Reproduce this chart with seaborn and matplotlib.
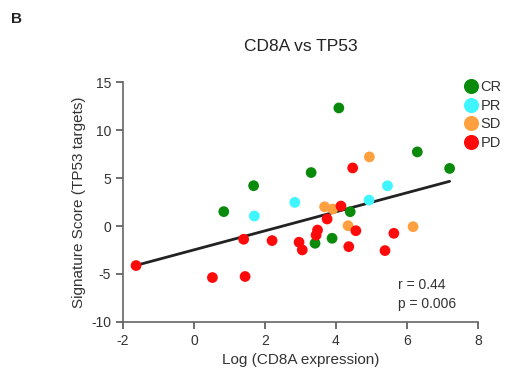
import numpy as np
import pandas as pd
import matplotlib
matplotlib.use("Agg")
import matplotlib.pyplot as plt
import seaborn as sns

# pontos (Log CD8A, score TP53)
cr_x = [0.84, 1.68, 3.30, 4.08, 6.29, 7.20, 4.40, 3.41, 3.89]
cr_y = [1.50, 4.20, 5.57, 12.3, 7.72, 6.00, 1.49, -1.80, -1.28]
pr_x = [1.70, 2.84, 5.45, 4.93]
pr_y = [1.04, 2.46, 4.19, 2.70]
sd_x = [4.94, 3.68, 3.91, 4.34, 6.17]
sd_y = [7.20, 2.00, 1.77, 0.03, -0.07]
pd_x = [-1.63, 0.52, 1.44, 1.40, 2.20, 2.96, 3.05, 3.48, 3.44, 3.75, 4.14, 4.47, 4.56, 4.36, 5.63, 5.38]
pd_y = [-4.12, -5.37, -5.26, -1.38, -1.52, -1.69, -2.49, -0.42, -0.95, 0.73, 2.08, 6.05, -0.49, -2.15, -0.76, -2.56]

groups = ['CR', 'PR', 'SD', 'PD']
colors = {'CR': '#0a8a0a', 'PR': '#3ff5ff', 'SD': '#ffa040', 'PD': '#ff0a0a'}

df = pd.DataFrame({
    'x': cr_x + pr_x + sd_x + pd_x,
    'y': cr_y + pr_y + sd_y + pd_y,
    'grupo': ['CR'] * len(cr_x) + ['PR'] * len(pr_x) + ['SD'] * len(sd_x) + ['PD'] * len(pd_x),
})

sns.set_style("ticks")
plt.rcParams['font.family'] = ['Liberation Sans', 'DejaVu Sans']
plt.rcParams['axes.unicode_minus'] = False

fig = plt.figure(figsize=(5.08, 3.87), dpi=100)
ax = fig.add_axes([0.242, 0.168, 0.699, 0.620])

sns.regplot(x='x', y='y', data=df, scatter=False, ci=None, ax=ax,
            line_kws={'color': '#222222', 'lw': 2})
sns.scatterplot(x='x', y='y', hue='grupo', hue_order=groups, palette=colors,
                data=df, s=60, edgecolor='none', ax=ax, zorder=3)

ax.set_xlim(-2, 8)
ax.set_ylim(-10, 15)
ax.set_xticks([-2, 0, 2, 4, 6, 8])
ax.set_yticks([-10, -5, 0, 5, 10, 15])
ax.tick_params(labelsize=10, colors='#555555', labelcolor='#333333', length=5, width=1.2)
for s in ['left', 'bottom']:
    ax.spines[s].set_color('#666666')
    ax.spines[s].set_linewidth(1.2)
sns.despine(ax=ax)

ax.set_xlabel('Log (CD8A expression)', fontsize=11, color='#333333')
ax.set_ylabel('Signature Score (TP53 targets)', fontsize=11, color='#333333')
ax.set_title('CD8A vs TP53', fontsize=12.5, color='#222222', pad=22)

ax.legend(loc='upper left', bbox_to_anchor=(0.913, 0.792), bbox_transform=fig.transFigure,
          frameon=False, markerscale=1.4, fontsize=10.5, handlelength=1.0,
          handletextpad=0.15, labelspacing=0.3, borderpad=0, borderaxespad=0,
          labelcolor='#333333')

ax.text(0.775, 0.155, 'r = 0.44', transform=ax.transAxes, fontsize=10, color='#333333', va='center')
ax.text(0.775, 0.075, 'p = 0.006', transform=ax.transAxes, fontsize=10, color='#333333', va='center')

fig.text(0.022, 0.95, 'B', fontsize=11, fontweight='bold', color='#222222', va='center')

fig.savefig('out.png', dpi=100)
